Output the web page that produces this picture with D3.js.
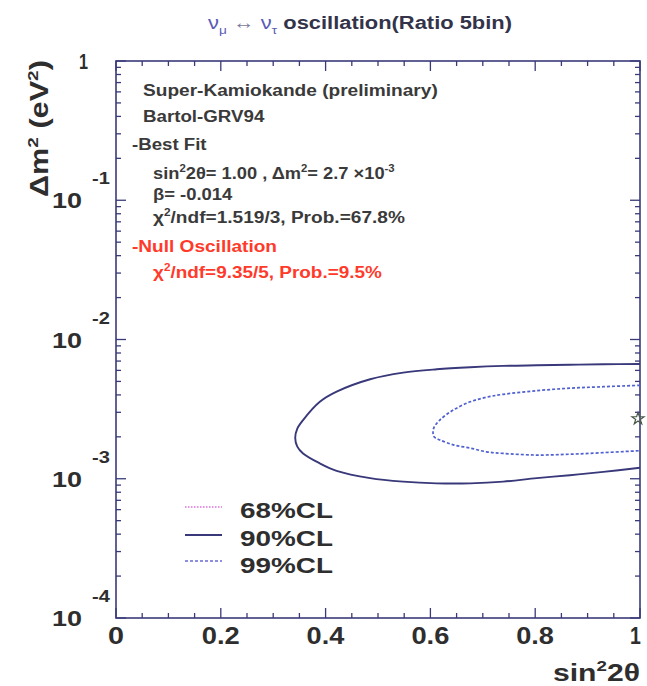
<!DOCTYPE html>
<html><head><meta charset="utf-8">
<script src="https://cdn.jsdelivr.net/npm/d3@7"></script>
<style>body{margin:0;background:#fff} text{font-family:"Liberation Sans",Arial,Helvetica,sans-serif}</style>
</head><body><svg id="c" width="647" height="686"></svg>
<script>
// ---- data ----
const xTicks = [0, 0.2, 0.4, 0.6, 0.8, 1];
const xTickLabels = ["0", "0.2", "0.4", "0.6", "0.8", "1"];
const yDecades = [1, 1e-1, 1e-2, 1e-3, 1e-4];
const yExponents = ["", "-1", "-2", "-3", "-4"];
// 90% CL contour (solid), traced from upper right edge, round the tip, to lower right edge
const cl90Sin = [1.0, 0.930, 0.866, 0.803, 0.739, 0.676, 0.612, 0.548, 0.485, 0.421, 0.389, 0.357, 0.346, 0.342,
                 0.346, 0.357, 0.389, 0.421, 0.485, 0.548, 0.612, 0.676, 0.739, 0.803, 0.866, 0.930, 1.0];
const cl90Dm  = [6.67e-3, 6.64e-3, 6.59e-3, 6.53e-3, 6.46e-3, 6.32e-3, 6.11e-3, 5.78e-3, 5.18e-3, 4.22e-3, 3.57e-3, 2.64e-3, 2.29e-3, 1.97e-3,
                 1.70e-3, 1.52e-3, 1.29e-3, 1.14e-3, 1.01e-3, 0.953e-3, 0.927e-3, 0.927e-3, 0.953e-3, 1.01e-3, 1.06e-3, 1.12e-3, 1.20e-3];
// inner dashed contour
const cl99Sin = [1.0, 0.930, 0.866, 0.803, 0.739, 0.707, 0.676, 0.644, 0.618, 0.607, 0.605,
                 0.607, 0.618, 0.644, 0.676, 0.707, 0.739, 0.803, 0.866, 0.930, 1.0];
const cl99Dm  = [4.69e-3, 4.58e-3, 4.47e-3, 4.29e-3, 4.04e-3, 3.85e-3, 3.57e-3, 3.12e-3, 2.64e-3, 2.34e-3, 2.17e-3,
                 2.00e-3, 1.90e-3, 1.75e-3, 1.66e-3, 1.56e-3, 1.52e-3, 1.48e-3, 1.50e-3, 1.54e-3, 1.59e-3];
const bestFit = [1.0, 2.7e-3];
const legendLabels = ["68%CL", "90%CL", "99%CL"];

// ---- layout ----
const svg = d3.select("#c");
const x = d3.scaleLinear().domain([0, 1]).range([116, 640]);
const y = d3.scaleLog().domain([1e-4, 1]).range([618, 61]);
const frameColor = "#3a3a7a";

// rich text helper: parts = [text, mode, color, weight]
function rich(g, px, py, parts, size, weight, color, width, rotate) {
  const t = g.append("text").attr("font-size", size).attr("font-weight", weight).attr("fill", color);
  let shift = 0;
  parts.forEach(p => {
    const [s, mode, col, w] = p;
    const ts = t.append("tspan").text(s);
    if (col) ts.attr("fill", col);
    if (w) ts.attr("font-weight", w);
    let target = 0;
    if (mode === "sup") { ts.attr("font-size", size * 0.62); target = -size * 0.42; }
    else if (mode === "sub") { ts.attr("font-size", size * 0.62); target = size * 0.25; }
    ts.attr("dy", target - shift);
    shift = target;
  });
  const bw = t.node().getBBox().width;
  const sx = width ? width / bw : 1;
  t.attr("transform", `translate(${px},${py})` + (rotate ? ` rotate(${rotate})` : "") + ` scale(${sx},1)`);
  return t;
}

// frame
svg.append("rect").attr("x", x(0)).attr("y", y(1)).attr("width", x(1) - x(0)).attr("height", y(1e-4) - y(1))
  .attr("fill", "none").attr("stroke", frameColor).attr("stroke-width", 1.6);

// x ticks (bottom + top, inward)
const xt = d3.range(0, 21).map(i => i * 0.05);
xt.forEach((v, i) => {
  const L = (i % 4 === 0) ? 10 : 5;
  svg.append("line").attr("x1", x(v)).attr("x2", x(v)).attr("y1", y(1e-4)).attr("y2", y(1e-4) - L).attr("stroke", frameColor).attr("stroke-width", 1.3);
  svg.append("line").attr("x1", x(v)).attr("x2", x(v)).attr("y1", y(1)).attr("y2", y(1) + L).attr("stroke", frameColor).attr("stroke-width", 1.3);
});
// y ticks (left + right, inward)
const yt = [];
for (let e = -4; e < 0; e++) for (let m = 1; m < 10; m++) yt.push([m * Math.pow(10, e), m === 1]);
yt.push([1, true]);
yt.forEach(([v, major]) => {
  const L = major ? 10 : 5;
  svg.append("line").attr("x1", x(0)).attr("x2", x(0) + L).attr("y1", y(v)).attr("y2", y(v)).attr("stroke", frameColor).attr("stroke-width", 1.3);
  svg.append("line").attr("x1", x(1)).attr("x2", x(1) - L).attr("y1", y(v)).attr("y2", y(v)).attr("stroke", frameColor).attr("stroke-width", 1.3);
});

// x tick labels
const xlw = {"0": 16, "1": 11};
xTicks.forEach((v, i) => {
  const w = xlw[xTickLabels[i]] || 38;
  let px = x(v) - w / 2;
  if (i === xTicks.length - 1) px = x(v) - w + 1;
  rich(svg, px, 644, [[xTickLabels[i]]], 23, "bold", "#2e2e2e", w);
});
// y tick labels
yDecades.forEach((v, i) => {
  if (v === 1) { rich(svg, 79, y(v) + 8, [["1"]], 22, "bold", "#2e2e2e", 9); return; }
  rich(svg, 52, y(v) + 8, [["10"]], 22, "bold", "#2e2e2e", 30);
  rich(svg, 92, y(v) - 16, [[yExponents[i]]], 16, "bold", "#2e2e2e", 18);
});

// axis titles
rich(svg, 553, 681, [["sin"], ["2", "sup"], ["2θ"]], 24, "bold", "#2e2e2e", 87);
rich(svg, 48, 197, [["Δm"], ["2", "sup"], [" (eV"], ["2", "sup"], [")"]], 25, "bold", "#2e2e2e", 137, -90);

// title
const nuc = "#5a5ab8";
rich(svg, 208, 29, [["ν", "", nuc, "normal"], ["μ", "sub", nuc, "normal"], [" ↔ ", "", "#7a7a9a", "normal"],
                    ["ν", "", nuc, "normal"], ["τ", "sub", nuc, "normal"], [" oscillation(Ratio 5bin)"]],
     19, "bold", "#33334a", 304);

// info text
const gray = "#3a3a3a", red = "#ff3a2a";
rich(svg, 143, 96, [["Super-Kamiokande (preliminary)"]], 17, "bold", gray, 295);
rich(svg, 143, 122, [["Bartol-GRV94"]], 17, "bold", gray, 122);
rich(svg, 132, 150, [["-Best Fit"]], 17, "bold", gray, 75);
rich(svg, 153, 179, [["sin"], ["2", "sup"], ["2θ= 1.00 , Δm"], ["2", "sup"], ["= 2.7 ×10"], ["-3", "sup"]], 17, "bold", gray, 242);
rich(svg, 153, 200, [["β= -0.014"]], 17, "bold", gray, 80);
rich(svg, 153, 223, [["χ"], ["2", "sup"], ["/ndf=1.519/3, Prob.=67.8%"]], 17, "bold", gray, 252);
rich(svg, 132, 252, [["-Null Oscillation"]], 17, "bold", red, 145);
rich(svg, 153, 278, [["χ"], ["2", "sup"], ["/ndf=9.35/5, Prob.=9.5%"]], 17, "bold", red, 229);

// contours
svg.append("clipPath").attr("id", "clip").append("rect")
  .attr("x", x(0)).attr("y", y(1)).attr("width", x(1) - x(0)).attr("height", y(1e-4) - y(1));
const line = d3.line().x(d => x(d[0])).y(d => y(d[1])).curve(d3.curveCatmullRom.alpha(0.5));
const g = svg.append("g").attr("clip-path", "url(#clip)");
g.append("path").attr("d", line(cl90Sin.map((s, i) => [s, cl90Dm[i]])))
  .attr("fill", "none").attr("stroke", "#38387a").attr("stroke-width", 1.9);
g.append("path").attr("d", line(cl99Sin.map((s, i) => [s, cl99Dm[i]])))
  .attr("fill", "none").attr("stroke", "#5060d0").attr("stroke-width", 1.7).attr("stroke-dasharray", "3,2");

// best fit marker
svg.append("path").attr("d", d3.symbol(d3.symbolStar, 45)())
  .attr("transform", `translate(${x(bestFit[0]) - 2},${y(bestFit[1])})`)
  .attr("fill", "none").attr("stroke", "#4a5a4a").attr("stroke-width", 1.2);

// legend
const legStyles = [
  {stroke: "#e070e0", dash: "1.5,1.5", w: 1.6},
  {stroke: "#38387a", dash: null, w: 2},
  {stroke: "#6a6ad8", dash: "3,2", w: 1.7}
];
const legLineY = [507, 535, 561], legTextY = [518, 546, 573];
legendLabels.forEach((lab, i) => {
  const s = legStyles[i];
  const l = svg.append("line").attr("x1", 185).attr("x2", 222).attr("y1", legLineY[i]).attr("y2", legLineY[i])
    .attr("stroke", s.stroke).attr("stroke-width", s.w);
  if (s.dash) l.attr("stroke-dasharray", s.dash);
  rich(svg, 240, legTextY[i], [[lab]], 22, "bold", "#2e2e2e", 93);
});
</script>
</body></html>
